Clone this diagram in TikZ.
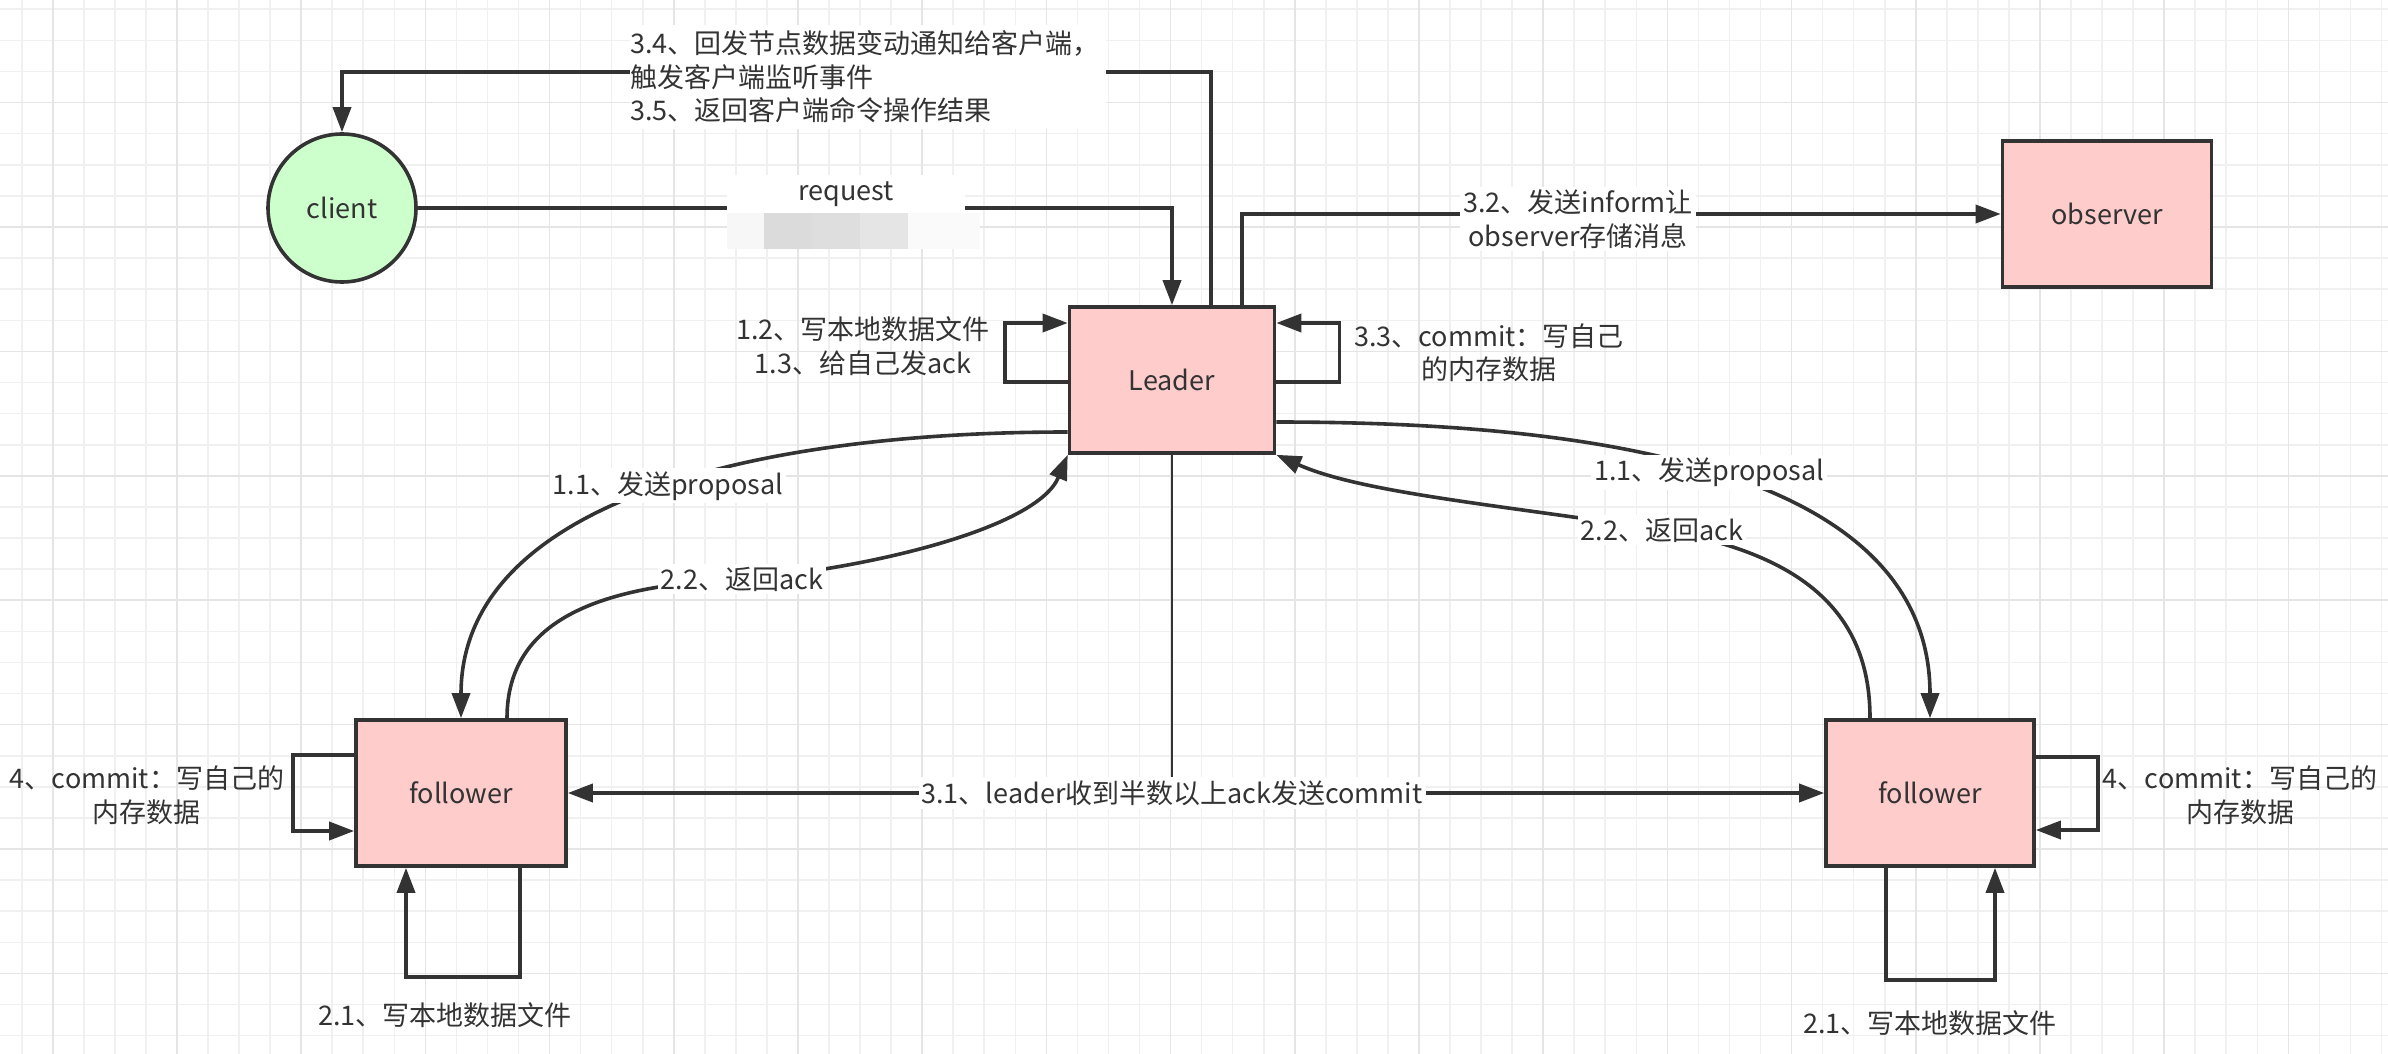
\documentclass[tikz,border=0pt]{standalone}
\usepackage{fontspec}
\newfontfamily\cjk{Noto Sans CJK SC}
\usetikzlibrary{arrows.meta,calc}
\definecolor{ink}{RGB}{51,51,51}
\definecolor{boxred}{RGB}{255,204,204}
\definecolor{boxgreen}{RGB}{204,255,204}
\definecolor{gridminor}{RGB}{240,240,240}
\definecolor{gridmajor}{RGB}{229,229,229}
\begin{document}
\begin{tikzpicture}[x=0.5pt,y=-0.5pt,
  font=\cjk\fontsize{13.5}{16.75}\selectfont,
  every node/.style={text=ink},
  sbox/.style={draw=ink,line width=1.8pt,fill=boxred,inner sep=0pt,minimum height=73pt},
  conn/.style={draw=ink,line width=1.8pt,-{Triangle[length=12.5pt,width=9pt]}},
  both/.style={draw=ink,line width=1.8pt,{Triangle[length=12.5pt,width=9pt]}-{Triangle[length=12.5pt,width=9pt]}},
  elbl/.style={fill=white,inner sep=1.5pt,align=center},
  lbl/.style={align=center,inner sep=0pt}]
% background and grid
\fill[white] (0,0) rectangle (2388,1054);
\useasboundingbox (0,0) rectangle (2388,1054);
\foreach \k in {0,...,76}{
  \pgfmathsetmacro\gx{21.7+31.05*\k}
  \draw[gridminor,line width=0.8pt] (\gx,0) -- (\gx,1054);}
\foreach \k in {0,...,33}{
  \pgfmathsetmacro\gy{9.3+31.1*\k}
  \draw[gridminor,line width=0.8pt] (0,\gy) -- (2388,\gy);}
\foreach \k in {1,5,...,73}{
  \pgfmathsetmacro\gx{21.7+31.05*\k}
  \draw[gridmajor,line width=0.8pt] (\gx,0) -- (\gx,1054);}
\foreach \k in {3,7,...,31}{
  \pgfmathsetmacro\gy{9.3+31.1*\k}
  \draw[gridmajor,line width=0.8pt] (0,\gy) -- (2388,\gy);}

% nodes
\node[circle,draw=ink,line width=1.8pt,fill=boxgreen,minimum size=74pt,inner sep=0pt] (client) at (342,208) {client};
\node[sbox,minimum width=102.5pt] (leader) at (1172,380) {Leader};
\node[sbox,minimum width=104.5pt] (observer) at (2107,214) {observer};
\node[sbox,minimum width=105pt] (fl) at (461,793) {follower};
\node[sbox,minimum width=104pt] (fr) at (1930,793) {follower};

% request
\draw[conn] (client) -| (leader);
\node[fill=white,minimum width=119pt,minimum height=19pt,inner sep=0pt] (lreq) at (846,194) {request};
\fill[white!97!black] (727,213) rectangle (764,249);
\fill[white!86!black] (764,213) rectangle (812,249);
\fill[white!87!black] (812,213) rectangle (860,249);
\fill[white!90!black] (860,213) rectangle (908,249);
\fill[white!98!black] (908,213) rectangle (980,249);

% 3.4 / 3.5
\draw[conn] ($(leader.north)+(39,0)$) |- ($(client.north)+(0,-60)$) -- (client.north);
\node[fill=white,inner xsep=0pt,inner ysep=3pt,text width=238pt,align=left,anchor=west] (l34) at (630,77)
  {3.4、回发节点数据变动通知给客户端，\\触发客户端监听事件\\3.5、返回客户端命令操作结果};

% 3.2
\draw[conn] ($(leader.north)+(70,0)$) |- (observer);
\node[elbl] (l32) at (1578,219) {3.2、发送inform让\\observer存储消息};

% leader self loops
\draw[conn] ($(leader.west)+(0,2)$) -- ++(-63,0) |- ($(leader.west)+(0,-57)$);
\node[lbl] (l12) at (863,346) {1.2、写本地数据文件\\1.3、给自己发ack};
\draw[conn] ($(leader.east)+(0,2)$) -- ++(63,0) |- ($(leader.east)+(0,-57)$);
\node[lbl] (l33) at (1489,353) {3.3、commit：写自己\\的内存数据};

% proposals
\draw[conn] ($(leader.west)+(0,52)$) .. controls +(-330,0) and +(0,-210) .. (fl.north)
  node[elbl,pos=0.46] (l11a) {1.1、发送proposal};
\draw[conn] ($(leader.east)+(0,42)$) .. controls +(283,0) and +(0,-260) .. (fr.north)
  node[elbl,pos=0.5] (l11b) {1.1、发送proposal};

% acks
\coordinate (w22a) at (742,579);
\draw[conn] ($(fl.north)+(46,0)$) .. controls +(0,-100) and +(-140,6) .. (w22a)
  .. controls +(118,-9) and +(-31,75) .. (leader.south west);
\node[elbl] (l22a) at (w22a) {2.2、返回ack};
\coordinate (w22b) at (1662,530);
\draw[conn] ($(fr.north)+(-60,0)$) .. controls +(0,-100) and +(148,25) .. (w22b)
  .. controls +(-162,-25) and +(85,38) .. (leader.south east);
\node[elbl] (l22b) at (w22b) {2.2、返回ack};

% 3.1 commit
\coordinate (j31) at (leader |- fl);
\draw[ink,line width=0.8pt] (leader.south) -- (j31);
\draw[both] (fl) -- (fr);
\node[elbl] (l31) at (j31) {3.1、leader收到半数以上ack发送commit};

% follower loops
\draw[conn] ($(fl.west)+(0,-38)$) -- ++(-61,0) |- ($(fl.west)+(0,38)$);
\node[lbl] (l4a) at (147,795) {4、commit：写自己的\\内存数据};
\draw[conn] ($(fl.south)+(59,0)$) -- ++(0,109) -| ($(fl.south)+(-55,0)$);
\node[lbl] (l21a) at (445,1015) {2.1、写本地数据文件};
\draw[conn] ($(fr.east)+(0,-36)$) -- ++(62,0) |- ($(fr.east)+(0,37)$);
\node[lbl] (l4b) at (2240,795) {4、commit：写自己的\\内存数据};
\draw[conn] ($(fr.south)+(-44,0)$) -- ++(0,112) -| ($(fr.south)+(65,0)$);
\node[lbl] (l21b) at (1930,1023) {2.1、写本地数据文件};
\end{tikzpicture}
\end{document}
